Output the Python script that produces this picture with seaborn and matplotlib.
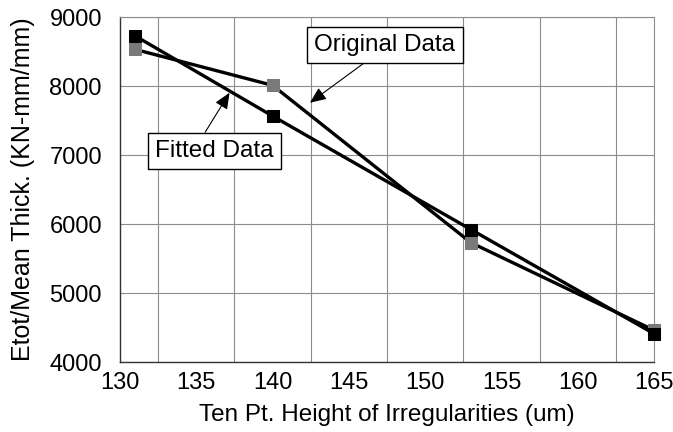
import matplotlib
matplotlib.use("Agg")
import matplotlib.pyplot as plt
import numpy as np
import pandas as pd
import seaborn as sns

# values
height_um      = [131, 140, 153, 165]
original_data  = [8530, 8010, 5730, 4460]
fitted_data    = [8725, 7565, 5920, 4410]
x_ticks        = [130, 135, 140, 145, 150, 155, 160, 165]
y_ticks        = [4000, 5000, 6000, 7000, 8000, 9000]

sns.set_style("white")
plt.rcParams['font.family'] = ['Liberation Sans', 'DejaVu Sans']
plt.rcParams['text.color'] = 'black'
plt.rcParams['axes.labelcolor'] = 'black'
plt.rcParams['xtick.color'] = 'black'
plt.rcParams['ytick.color'] = 'black'

df = pd.DataFrame({
    "Ten Pt. Height of Irregularities (um)": height_um * 2,
    "Etot/Mean Thick. (KN-mm/mm)": original_data + fitted_data,
    "series": ["Original Data"] * 4 + ["Fitted Data"] * 4,
})

fig = plt.figure(figsize=(6.73, 4.32), dpi=100)
ax = fig.add_axes([0.1783, 0.162, 0.7935, 0.7986])

for name, mcolor in [("Original Data", "#7a7a7a"), ("Fitted Data", "black")]:
    sns.lineplot(data=df[df["series"] == name], x="Ten Pt. Height of Irregularities (um)",
                 y="Etot/Mean Thick. (KN-mm/mm)", color="black", lw=2.4, marker="s",
                 markersize=8, markerfacecolor=mcolor, markeredgecolor=mcolor,
                 ax=ax, legend=False, zorder=3, clip_on=False)

ax.set_xlim(130, 165)
ax.set_ylim(4000, 9000)
ax.set_xticks(x_ticks)
ax.set_xticks(np.arange(132.5, 165, 5), minor=True)
ax.set_yticks(y_ticks)
ax.set_yticks(np.arange(4500, 9000, 1000), minor=True)
ax.grid(which="minor", axis="x", color="#8c8c8c", lw=0.8)
ax.grid(which="major", axis="y", color="#8c8c8c", lw=0.8)
ax.tick_params(axis="x", which="major", direction="inout", length=9, width=1, labelsize=17, pad=3)
ax.tick_params(axis="x", which="minor", length=0)
ax.tick_params(axis="y", which="major", direction="out", length=5, width=1, labelsize=17, pad=8)
ax.tick_params(axis="y", which="minor", direction="inout", length=6, width=1)
for side in ["left", "bottom"]:
    ax.spines[side].set_color("#333333")
    ax.spines[side].set_linewidth(1.0)
ax.spines["top"].set_color("#8c8c8c")
ax.spines["top"].set_linewidth(0.8)
ax.spines["right"].set_color("#8c8c8c")
ax.spines["right"].set_linewidth(0.8)

ax.set_xlabel("Ten Pt. Height of Irregularities (um)", fontsize=17.5, labelpad=7)
ax.set_ylabel("Etot/Mean Thick. (KN-mm/mm)", fontsize=18, labelpad=10)

box = dict(boxstyle="square,pad=0.3", fc="white", ec="black", lw=1)
ax.annotate("Original Data", xy=(142.45, 7758), xytext=(147.36, 8594),
            ha="center", va="center", fontsize=17.5, bbox=box, zorder=5,
            arrowprops=dict(arrowstyle="-|>,head_length=0.7,head_width=0.3", color="black",
                            lw=0.8, mutation_scale=14, relpos=(0.42, 0), shrinkA=0, shrinkB=0))
ax.annotate("Fitted Data", xy=(137.18, 7903), xytext=(136.2, 7058),
            ha="center", va="center", fontsize=17.5, bbox=box, zorder=5,
            arrowprops=dict(arrowstyle="-|>,head_length=0.7,head_width=0.3", color="black",
                            lw=0.8, mutation_scale=14, relpos=(0.38, 1), shrinkA=0, shrinkB=0))

plt.savefig("out.png", dpi=100)
